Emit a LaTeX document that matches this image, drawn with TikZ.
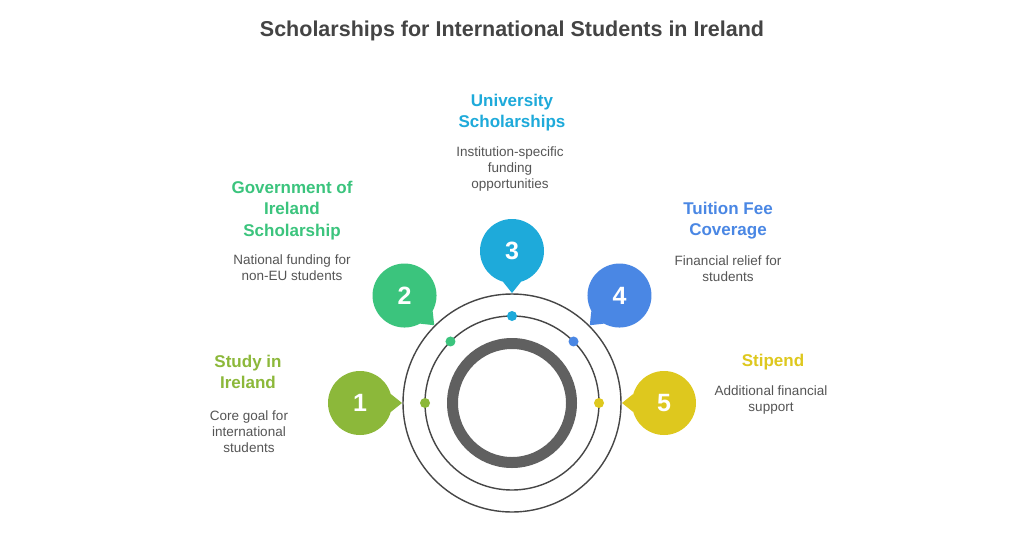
\documentclass[tikz,border=0pt]{standalone}
\usepackage{fontspec}
\setmainfont{Liberation Sans}
\usetikzlibrary{calc}
\definecolor{studygreen}{RGB}{140,184,58}
\definecolor{govgreen}{RGB}{59,196,125}
\definecolor{unicyan}{RGB}{30,170,218}
\definecolor{feeblue}{RGB}{74,135,228}
\definecolor{stipyellow}{RGB}{222,200,30}
\definecolor{ringgray}{RGB}{96,96,96}
\definecolor{linegray}{RGB}{70,70,70}
\definecolor{textgray}{RGB}{85,85,85}
\definecolor{titlegray}{RGB}{68,68,68}
\begin{document}
\begin{tikzpicture}[x=1pt,y=-1pt,
  bubble/.style={circle,minimum size=64pt,inner sep=0pt,text=white,font=\fontsize{25}{30}\selectfont\bfseries},
  dot/.style={circle,minimum size=10pt,inner sep=0pt},
  head/.style={align=center,anchor=base,inner sep=0pt,font=\fontsize{17}{21.5}\selectfont\bfseries},
  desc/.style={align=center,anchor=base,inner sep=0pt,text=textgray,font=\fontsize{13.5}{16}\selectfont}]
\useasboundingbox[fill=white] (0,0) rectangle (1024,536);
\node[anchor=base,inner sep=0pt,text=titlegray,font=\fontsize{21.5}{26}\selectfont\bfseries] (title) at (512,36) {Scholarships for International Students in Ireland};

\coordinate (c) at (512,403);
\draw[linegray,line width=1.4pt] (c) circle (109pt);
\draw[linegray,line width=1.4pt] (c) circle (87pt);
\draw[ringgray,line width=11pt] (c) circle (59.5pt);

\node[dot,fill=studygreen] (d1) at ($(c)+(180:87pt)$) {};
\node[dot,fill=govgreen] (d2) at ($(c)+(135:87pt)$) {};
\node[dot,fill=unicyan] (d3) at ($(c)+(90:87pt)$) {};
\node[dot,fill=feeblue] (d4) at ($(c)+(45:87pt)$) {};
\node[dot,fill=stipyellow] (d5) at ($(c)+(0:87pt)$) {};

\node[bubble,fill=studygreen] (b1) at ($(c)+(180:152pt)$) {1};
\coordinate (t1) at ($(c)+(180:110pt)$);
\fill[studygreen] (b1.16) -- (t1) -- (b1.-16) -- cycle;
\node[bubble,fill=govgreen] (b2) at ($(c)+(135:152pt)$) {2};
\coordinate (t2) at ($(c)+(135:110pt)$);
\fill[govgreen] (b2.-29) -- (t2) -- (b2.-61) -- cycle;
\node[bubble,fill=unicyan] (b3) at ($(c)+(90:152pt)$) {3};
\coordinate (t3) at ($(c)+(90:110pt)$);
\fill[unicyan] (b3.-74) -- (t3) -- (b3.-106) -- cycle;
\node[bubble,fill=feeblue] (b4) at ($(c)+(45:152pt)$) {4};
\coordinate (t4) at ($(c)+(45:110pt)$);
\fill[feeblue] (b4.-119) -- (t4) -- (b4.-151) -- cycle;
\node[bubble,fill=stipyellow] (b5) at ($(c)+(0:152pt)$) {5};
\coordinate (t5) at ($(c)+(0:110pt)$);
\fill[stipyellow] (b5.164) -- (t5) -- (b5.196) -- cycle;

\node[head,text=studygreen] (h1) at (248,388.5) {Study in\\Ireland};
\node[desc] (s1) at (249,452) {Core goal for\\international\\students};
\node[head,text=govgreen] (h2) at (292,236) {Government of\\Ireland\\Scholarship};
\node[desc] (s2) at (292,280) {National funding for\\non-EU students};
\node[head,text=unicyan] (h3) at (512,127.5) {University\\Scholarships};
\node[desc] (s3) at (510,188) {Institution-specific\\funding\\opportunities};
\node[head,text=feeblue] (h4) at (728,235.5) {Tuition Fee\\Coverage};
\node[desc] (s4) at (728,281) {Financial relief for\\students};
\node[head,text=stipyellow] (h5) at (773,366) {Stipend};
\node[desc] (s5) at (771,411) {Additional financial\\support};
\end{tikzpicture}
\end{document}
